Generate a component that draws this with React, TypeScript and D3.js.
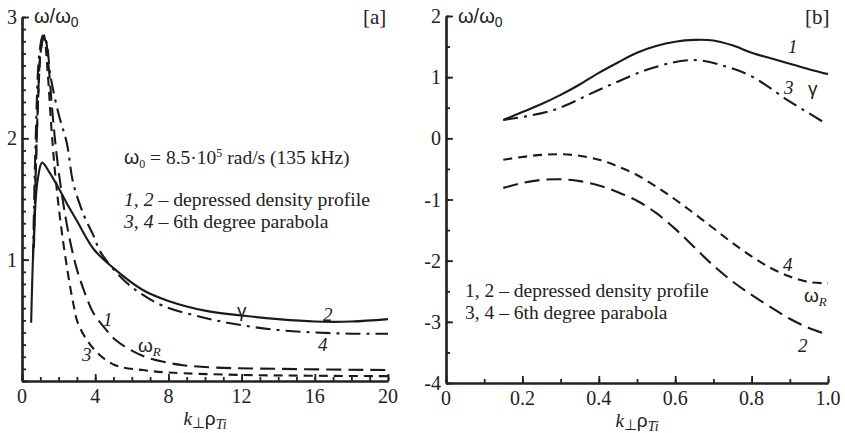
// Two-panel dispersion plot: omega/omega0 vs k_perp rho_Ti
import React, { useEffect, useRef } from 'react'
import * as d3 from 'd3'

type Pt = [number, number]

// panel [a] : x = k rho, y = omega / omega0
const aGammaDepressed: Pt[] = [
  [0.5, 0.48], [0.65, 1.2], [0.85, 1.65], [1.1, 1.8], [1.5, 1.72], [2, 1.59], [2.5, 1.45],
  [3, 1.32], [3.9, 1.09], [5, 0.93], [6.6, 0.75], [8, 0.66], [10, 0.58], [12, 0.54],
  [14, 0.51], [16, 0.49], [18, 0.49], [20, 0.51],
]
const aGammaParabola: Pt[] = [
  [0.6, 1.0], [0.75, 2.0], [0.95, 2.7], [1.15, 2.85], [1.35, 2.78], [1.55, 2.52], [2, 2.2],
  [2.45, 1.96], [2.8, 1.63], [3.4, 1.36], [3.9, 1.2], [4.3, 1.06], [5.5, 0.84], [6.5, 0.72],
  [7.7, 0.62], [10, 0.52], [12, 0.46], [14, 0.42], [16, 0.4], [18, 0.39], [20, 0.39],
]
const aOmegaDepressed: Pt[] = [
  [0.65, 1.1], [0.85, 2.2], [1.05, 2.75], [1.25, 2.85], [1.45, 2.6], [1.7, 2.15], [2, 1.73],
  [2.5, 1.25], [3, 0.92], [3.5, 0.7], [3.9, 0.56], [4.5, 0.44], [5.1, 0.34], [6, 0.25],
  [6.9, 0.19], [8, 0.15], [8.8, 0.13], [10.6, 0.11], [14, 0.1], [20, 0.09],
]
const aOmegaParabola: Pt[] = [
  [0.65, 1.1], [0.85, 2.2], [1.05, 2.75], [1.2, 2.85], [1.4, 2.55], [1.6, 2.1], [1.8, 1.73],
  [2.2, 1.2], [2.8, 0.64], [3.1, 0.46], [4, 0.25], [5.1, 0.13], [6.6, 0.09], [8, 0.07],
  [12, 0.05], [20, 0.04],
]

// panel [b]
const bGammaDepressed: Pt[] = [
  [0.15, 0.3], [0.2, 0.43], [0.25, 0.56], [0.3, 0.71], [0.35, 0.88], [0.4, 1.07], [0.45, 1.24],
  [0.5, 1.4], [0.55, 1.51], [0.6, 1.58], [0.65, 1.61], [0.7, 1.6], [0.75, 1.52], [0.8, 1.4],
  [0.85, 1.31], [0.9, 1.22], [0.95, 1.13], [1.0, 1.05],
]
const bGammaParabola: Pt[] = [
  [0.15, 0.3], [0.28, 0.46], [0.41, 0.82], [0.54, 1.15], [0.647, 1.28], [0.735, 1.17],
  [0.804, 1.0], [0.893, 0.63], [0.987, 0.27],
]
const bOmegaParabola: Pt[] = [
  [0.15, -0.35], [0.25, -0.27], [0.33, -0.27], [0.4, -0.35], [0.45, -0.46], [0.5, -0.6],
  [0.55, -0.79], [0.6, -1.0], [0.65, -1.23], [0.7, -1.47], [0.75, -1.71], [0.8, -1.93],
  [0.85, -2.12], [0.9, -2.26], [0.95, -2.35], [1.0, -2.37],
]
const bOmegaDepressed: Pt[] = [
  [0.15, -0.81], [0.2, -0.73], [0.25, -0.68], [0.3, -0.67], [0.35, -0.7], [0.4, -0.77],
  [0.45, -0.88], [0.5, -1.02], [0.55, -1.22], [0.6, -1.48], [0.65, -1.78], [0.7, -2.08],
  [0.75, -2.34], [0.8, -2.56], [0.85, -2.76], [0.9, -2.95], [0.95, -3.1], [1.0, -3.21],
]

const aXTicks = [0, 4, 8, 12, 16, 20]
const aYTicks = [1, 2, 3]
const bXTicks = [0, 0.2, 0.4, 0.6, 0.8, 1.0]
const bYTicks = [2, 1, 0, -1, -2, -3, -4]

const SERIF = '"Liberation Serif", "Times New Roman", serif'
const SANS = '"Liberation Sans", Arial, sans-serif'

const styles: Record<string, string> = {
  solid: 'none',
  dashdot: '15,6,3,6',
  long: '15,7',
  short: '9,6',
}

export default function App() {
  const ref = useRef<SVGSVGElement>(null)

  useEffect(() => {
    document.body.style.margin = '0'
    const svg = d3.select(ref.current)
    svg.selectAll('*').remove()

    const drawPanel = (opts: any) => {
      const { x, y, xMinor, yMinor, xMajor, yMajor, xFmt, yFmt, yLabels, series } = opts
      const g = svg.append('g')
      const [x0] = x.range()
      const [y0] = y.range()

      // minor ticks (inward)
      g.append('g')
        .attr('transform', `translate(${x0},0)`)
        .call(d3.axisLeft(y).tickValues(yMinor).tickSizeInner(-4).tickSizeOuter(0).tickFormat(() => ''))
      g.append('g')
        .attr('transform', `translate(0,${y0})`)
        .call(d3.axisBottom(x).tickValues(xMinor).tickSizeInner(-4).tickSizeOuter(0).tickFormat(() => ''))
      // major ticks
      g.append('g')
        .attr('transform', `translate(${x0},0)`)
        .call(d3.axisLeft(y).tickValues(yMajor).tickSizeInner(-7).tickSizeOuter(0).tickFormat(() => ''))
      g.append('g')
        .attr('transform', `translate(0,${y0})`)
        .call(d3.axisBottom(x).tickValues(xMajor).tickSizeInner(-7).tickSizeOuter(0).tickFormat(() => ''))

      g.selectAll('.domain').attr('stroke', '#222').attr('stroke-width', 2.2)
      g.selectAll('.tick line').attr('stroke', '#222').attr('stroke-width', 1.8)

      // labels
      g.selectAll('.ylab')
        .data(yLabels)
        .enter()
        .append('text')
        .attr('x', x0 - 5)
        .attr('y', (d: number) => y(d) + 7)
        .attr('text-anchor', 'end')
        .attr('font-family', SERIF)
        .attr('font-size', 20)
        .attr('fill', '#222')
        .text(yFmt)
      g.selectAll('.xlab')
        .data(xMajor)
        .enter()
        .append('text')
        .attr('x', (d: number) => x(d))
        .attr('y', y0 + 22)
        .attr('text-anchor', 'middle')
        .attr('font-family', SERIF)
        .attr('font-size', 20)
        .attr('fill', '#222')
        .text(xFmt)

      const line = d3
        .line<Pt>()
        .x((d) => x(d[0]))
        .y((d) => y(d[1]))
        .curve(d3.curveCatmullRom.alpha(0.5))
      series.forEach((s: any) => {
        g.append('path')
          .datum(s.data)
          .attr('d', line)
          .attr('fill', 'none')
          .attr('stroke', '#1a1a1a')
          .attr('stroke-width', 2.1)
          .attr('stroke-dasharray', styles[s.style])
      })

      // axis title
      const t = g
        .append('text')
        .attr('x', (x.range()[0] + x.range()[1]) / 2)
        .attr('y', y0 + 44)
        .attr('text-anchor', 'middle')
        .attr('font-size', 19)
        .attr('fill', '#222')
      t.append('tspan').attr('font-family', SERIF).attr('font-style', 'italic').text('k')
      t.append('tspan').attr('font-family', SANS).attr('font-size', 15).attr('dy', 3).text('⊥')
      t.append('tspan').attr('font-family', SANS).attr('dy', -3).text('ρ')
      t.append('tspan')
        .attr('font-family', SERIF)
        .attr('font-style', 'italic')
        .attr('font-size', 14)
        .attr('dy', 4)
        .text('Ti')

      // omega / omega0
      const w = g
        .append('text')
        .attr('x', x0 + 12)
        .attr('y', 23)
        .attr('font-family', SANS)
        .attr('font-size', 20)
        .attr('fill', '#222')
      w.append('tspan').text('ω/ω')
      w.append('tspan').attr('font-size', 14).attr('dy', 4).text('0')
      return g
    }

    // panel a
    const xa = d3.scaleLinear().domain([0, 20]).range([22, 388])
    const ya = d3.scaleLinear().domain([0, 3]).range([381, 17])
    const ga = drawPanel({
      x: xa,
      y: ya,
      xMinor: d3.range(0, 21, 1),
      yMinor: d3.range(0, 3.01, 0.1),
      xMajor: aXTicks,
      yMajor: [0, 1, 2, 3],
      xFmt: (d: number) => String(d),
      yFmt: (d: number) => String(d),
      yLabels: aYTicks,
      series: [
        { data: aGammaDepressed, style: 'solid' },
        { data: aGammaParabola, style: 'dashdot' },
        { data: aOmegaDepressed, style: 'long' },
        { data: aOmegaParabola, style: 'short' },
      ],
    })

    // panel b
    const xb = d3.scaleLinear().domain([0, 1]).range([446, 828])
    const yb = d3.scaleLinear().domain([-4, 2]).range([383, 16])
    const gb = drawPanel({
      x: xb,
      y: yb,
      xMinor: d3.range(0, 1.01, 0.1),
      yMinor: d3.range(-4, 2.01, 0.5),
      xMajor: bXTicks,
      yMajor: bYTicks,
      xFmt: (d: number) => (d === 0 ? '0' : d.toFixed(1)),
      yFmt: (d: number) => String(d),
      yLabels: bYTicks,
      series: [
        { data: bGammaDepressed, style: 'solid' },
        { data: bGammaParabola, style: 'dashdot' },
        { data: bOmegaParabola, style: 'short' },
        { data: bOmegaDepressed, style: 'long' },
      ],
    })

    const addText = (g: any, x: number, y: number, txt: string, opts: any = {}) => {
      return g
        .append('text')
        .attr('x', x)
        .attr('y', y)
        .attr('font-family', opts.sans ? SANS : SERIF)
        .attr('font-size', opts.size || 19)
        .attr('font-style', opts.italic ? 'italic' : 'normal')
        .attr('fill', '#222')
        .text(txt)
    }

    // panel a annotations
    addText(ga, 363, 24, '[a]', { size: 21 })
    const w0 = ga.append('text').attr('x', 124).attr('y', 164).attr('font-family', SERIF).attr('font-size', 19.5).attr('fill', '#222')
    w0.append('tspan').attr('font-family', SANS).text('ω')
    w0.append('tspan').attr('font-size', 12).attr('dy', 4).text('0')
    w0.append('tspan').attr('dy', -4).text(' = 8.5·10')
    w0.append('tspan').attr('font-size', 12).attr('dy', -7).text('5')
    w0.append('tspan').attr('dy', 7).text(' rad/s (135 kHz)')

    const l1 = ga.append('text').attr('x', 124).attr('y', 206).attr('font-family', SERIF).attr('font-size', 19.7).attr('fill', '#222')
    l1.append('tspan').attr('font-style', 'italic').text('1')
    l1.append('tspan').text(', ')
    l1.append('tspan').attr('font-style', 'italic').text('2')
    l1.append('tspan').text(' – depressed density profile')
    const l2 = ga.append('text').attr('x', 124).attr('y', 228).attr('font-family', SERIF).attr('font-size', 19.7).attr('fill', '#222')
    l2.append('tspan').attr('font-style', 'italic').text('3')
    l2.append('tspan').text(', ')
    l2.append('tspan').attr('font-style', 'italic').text('4')
    l2.append('tspan').text(' – 6th degree parabola')

    addText(ga, 237, 317, 'γ', { sans: true })
    addText(ga, 323, 321, '2', { italic: true })
    addText(ga, 318, 351, '4', { italic: true })
    addText(ga, 103, 326, '1', { italic: true })
    addText(ga, 82, 361, '3', { italic: true })
    const wr = ga.append('text').attr('x', 138).attr('y', 352).attr('font-family', SANS).attr('font-size', 19).attr('fill', '#222')
    wr.append('tspan').text('ω')
    wr.append('tspan').attr('font-family', SERIF).attr('font-style', 'italic').attr('font-size', 13).attr('dy', 4).text('R')

    // panel b annotations
    addText(gb, 805, 24, '[b]', { size: 21 })
    addText(gb, 788, 53, '1', { italic: true })
    addText(gb, 784, 94, '3', { italic: true })
    addText(gb, 808, 95, 'γ', { sans: true })
    addText(gb, 783, 271, '4', { italic: true })
    addText(gb, 798, 352, '2', { italic: true })
    const wr2 = gb.append('text').attr('x', 804).attr('y', 302).attr('font-family', SANS).attr('font-size', 19).attr('fill', '#222')
    wr2.append('tspan').text('ω')
    wr2.append('tspan').attr('font-family', SERIF).attr('font-style', 'italic').attr('font-size', 13).attr('dy', 4).text('R')
    addText(gb, 465, 297, '1, 2 – depressed density profile', { size: 19.5 })
    addText(gb, 465, 319, '3, 4 – 6th degree parabola', { size: 19.5 })
  }, [])

  return <svg ref={ref} width={845} height={433} style={{ display: 'block', background: '#fff' }} />
}
